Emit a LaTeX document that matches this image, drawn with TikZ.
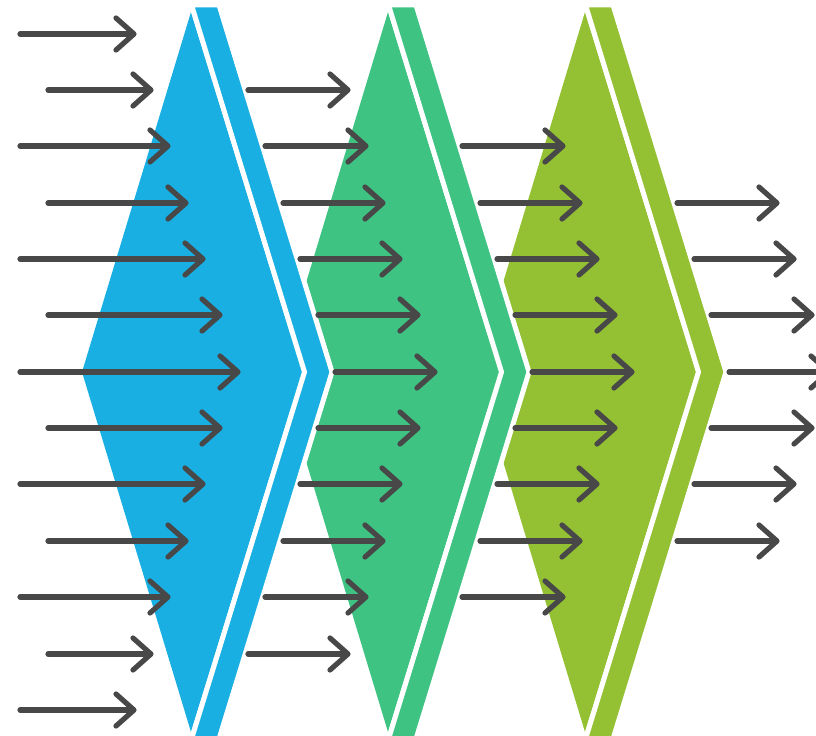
\documentclass[tikz,border=0pt]{standalone}
\usetikzlibrary{calc}
\definecolor{blueC}{RGB}{26,175,226}
\definecolor{greenC}{RGB}{62,195,131}
\definecolor{limeC}{RGB}{148,192,52}
\definecolor{arrgray}{RGB}{72,72,72}
\tikzset{
  arr/.style={draw=arrgray, line width=3.9pt, line cap=round, line join=round},
  strip/.style={draw=white, line width=3.75pt, line join=miter},
}
\newcommand\myarrow[3]{%
  \draw[arr] (#2,#1) -- (#3-2,#1);
  \draw[arr] (#3-18,#1-16) -- (#3,#1) -- (#3-18,#1+16);}
\newcommand\mystage[2]{%
  \fill[#2] (82+#1,372) -- (191+#1,12) -- (302+#1,372) -- (191+#1,732) -- cycle;
  \filldraw[strip,fill=#2] (191.5+#1,5) -- (219+#1,5) -- (332+#1,372) -- (219+#1,739) -- (191.5+#1,739) -- (304.5+#1,372) -- cycle;}
\begin{document}
\begin{tikzpicture}[x=0.75pt,y=-0.75pt]
\useasboundingbox (0,0) rectangle (816,735);
\mystage{394}{limeC}
\mystage{197}{greenC}
\mystage{0}{blueC}
% column 1
\myarrow{34}{20}{134}
\myarrow{90}{48}{151}
\myarrow{146}{20}{168}
\myarrow{203}{48}{186}
\myarrow{259}{20}{203}
\myarrow{315}{48}{220}
\myarrow{372}{20}{238}
\myarrow{428}{48}{220}
\myarrow{484}{20}{203}
\myarrow{541}{48}{186}
\myarrow{597}{20}{168}
\myarrow{654}{48}{151}
\myarrow{710}{20}{134}
% column 2
\myarrow{90}{248}{348}
\myarrow{146}{265}{366}
\myarrow{203}{283}{383}
\myarrow{259}{300}{400}
\myarrow{315}{318}{418}
\myarrow{372}{335}{435}
\myarrow{428}{318}{418}
\myarrow{484}{300}{400}
\myarrow{541}{283}{383}
\myarrow{597}{265}{366}
\myarrow{654}{248}{348}
% column 3
\myarrow{146}{462}{563}
\myarrow{203}{480}{580}
\myarrow{259}{497}{597}
\myarrow{315}{515}{615}
\myarrow{372}{532}{632}
\myarrow{428}{515}{615}
\myarrow{484}{497}{597}
\myarrow{541}{480}{580}
\myarrow{597}{462}{563}
% column 4
\myarrow{203}{677}{777}
\myarrow{259}{694}{794}
\myarrow{315}{711}{812}
\myarrow{372}{729}{829}
\myarrow{428}{711}{812}
\myarrow{484}{694}{794}
\myarrow{541}{677}{777}
\end{tikzpicture}
\end{document}
